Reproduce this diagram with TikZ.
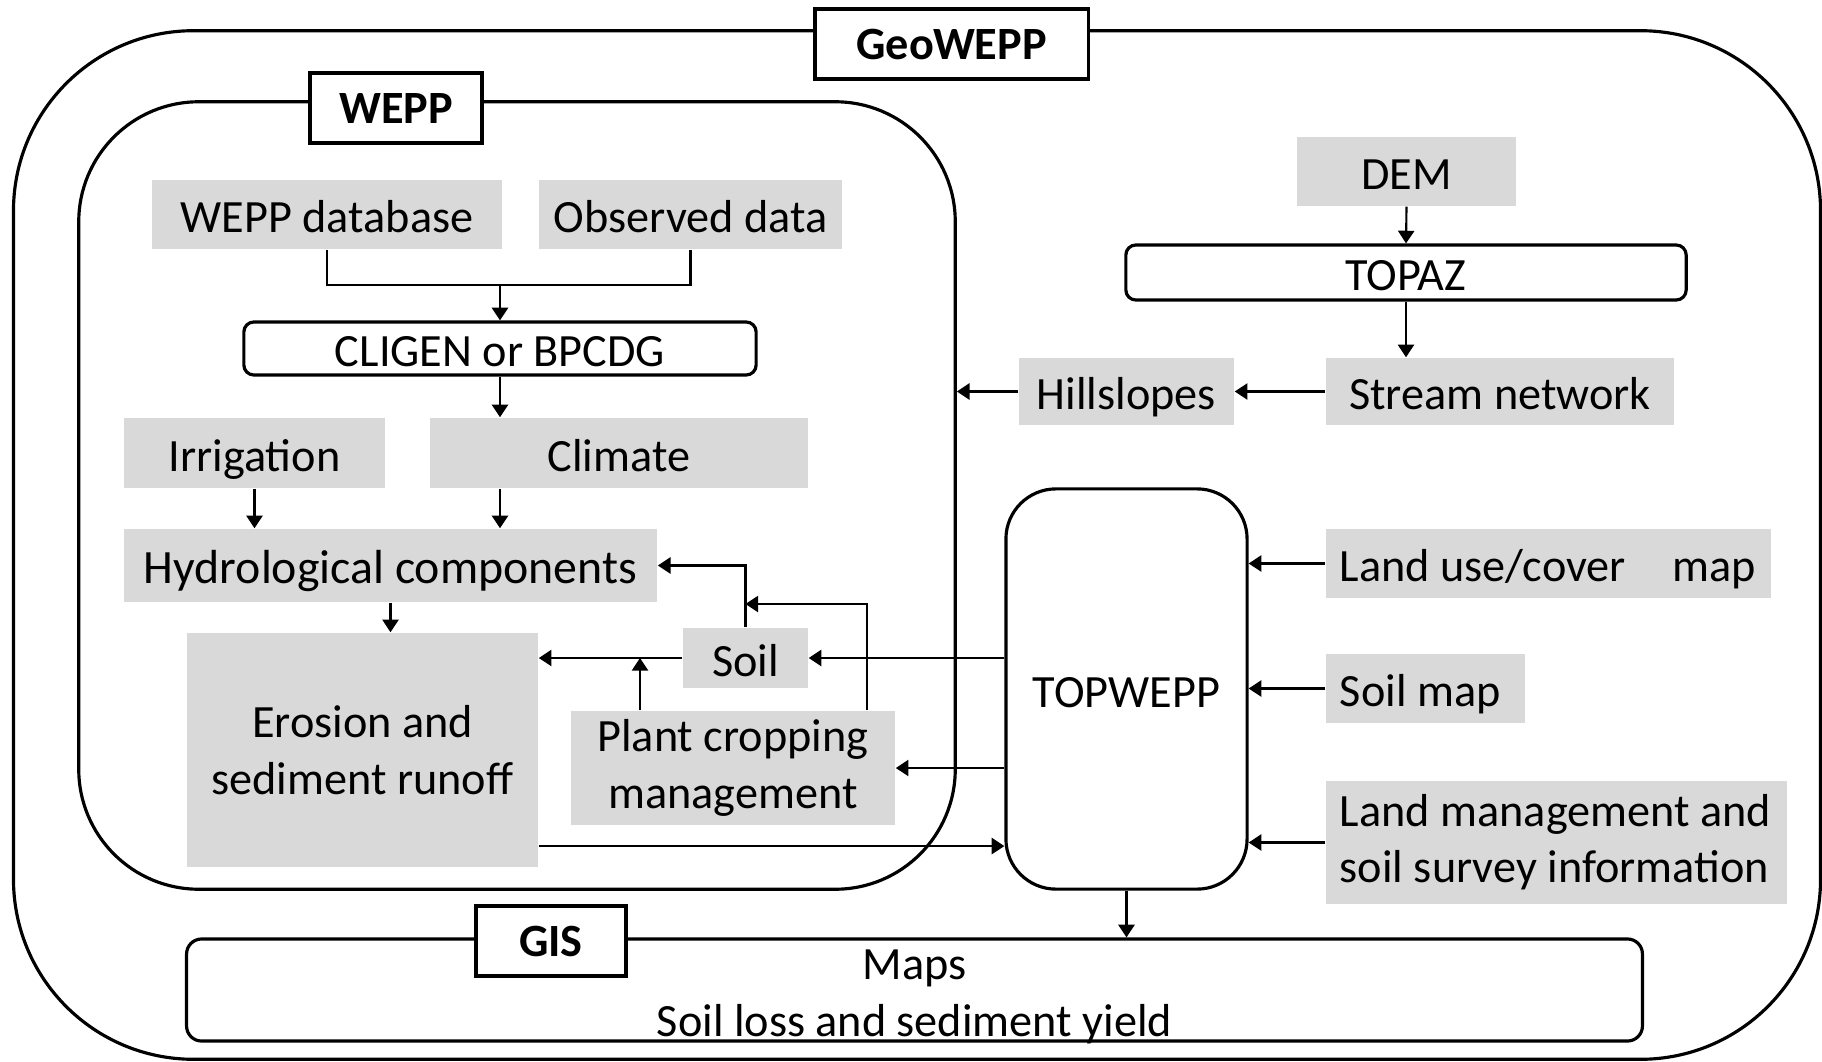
\documentclass[tikz,border=0pt]{standalone}
\usepackage{fontspec}
\setmainfont{Carlito}
\usetikzlibrary{arrows.meta}
\definecolor{boxgray}{HTML}{D9D9D9}
\newcommand{\bodysize}{\fontsize{13.15pt}{16pt}\selectfont}
\tikzset{
  oneline/.style={text height=11.4pt, text depth=1pt},
  gbox/.style={fill=boxgray, draw=none, inner sep=0pt, align=center},
  plainbox/.style={fill=boxgray, draw=none, inner sep=0pt},
  ltext/.style={anchor=west, inner sep=0pt, align=left},
  rbox/.style={draw, line width=0.9pt, rounded corners=0.1cm, inner sep=0pt, align=center},
  frame/.style={draw, line width=0.9pt, inner sep=0pt},
  tagbox/.style={draw, line width=0.9pt, fill=white, inner sep=0pt, text height=10.8pt, text depth=2pt, font=\bodysize\bfseries},
  link/.style={line width=0.6pt},
  arr/.style={line width=0.6pt, -{Triangle[length=3.6pt,width=4.6pt]}},
}
\begin{document}
\begin{tikzpicture}[x=0.01cm, y=-0.01cm, font=\bodysize]
\useasboundingbox (0,0) rectangle (1822,1061);

% enclosing frames
\node[frame, rounded corners=1.8cm, minimum width=18.06cm, minimum height=10.28cm] (outer) at (917,545) {};
\node[frame, rounded corners=1.2cm, minimum width=8.76cm, minimum height=7.87cm] (weppbox) at (517,495.5) {};
\node[tagbox, minimum width=2.73cm, minimum height=0.70cm] (geotag) at (951.5,44) {GeoWEPP};
\node[tagbox, minimum width=1.72cm, minimum height=0.70cm] (wepptag) at (396,108) {WEPP};

% WEPP components
\node[gbox, oneline, minimum width=3.50cm, minimum height=0.69cm] (wdb) at (327,214.5) {WEPP database};
\node[gbox, oneline, minimum width=3.03cm, minimum height=0.69cm] (obs) at (690.5,214.5) {Observed data};
\node[rbox, oneline, minimum width=5.12cm, minimum height=0.53cm] (cligen) at (500,348.5) {CLIGEN or BPCDG};
\node[gbox, oneline, minimum width=2.61cm, minimum height=0.70cm] (irr) at (254.5,453) {Irrigation};
\node[gbox, oneline, minimum width=3.78cm, minimum height=0.70cm] (clim) at (619,453) {Climate};
\node[gbox, oneline, minimum width=5.33cm, minimum height=0.73cm, font=\fontsize{13.6pt}{16pt}\selectfont] (hydro) at (390.5,565.5) {Hydrological components};
\node[gbox, minimum width=3.51cm, minimum height=2.34cm] (eros) at (362.5,750) {Erosion and\\sediment runoff};
\node[gbox, oneline, minimum width=1.25cm, minimum height=0.60cm] (soil) at (745.5,658) {Soil};
\node[gbox, minimum width=3.24cm, minimum height=1.14cm] (plant) at (733,768) {Plant cropping\\management};

% terrain processing
\node[gbox, oneline, minimum width=2.19cm, minimum height=0.69cm] (dem) at (1406.5,171.5) {DEM};
\node[rbox, oneline, minimum width=5.60cm, minimum height=0.55cm] (topaz) at (1406,272.5) {TOPAZ};
\node[gbox, oneline, minimum width=3.48cm, minimum height=0.67cm] (stream) at (1500,391.5) {Stream network};
\node[gbox, oneline, minimum width=2.15cm, minimum height=0.67cm] (hill) at (1126.5,391.5) {Hillslopes};
\node[rbox, oneline, rounded corners=0.5cm, minimum width=2.41cm, minimum height=4.00cm] (topwepp) at (1126.5,689) {TOPWEPP};

% map inputs, text set flush left inside the grey boxes
\node[plainbox, minimum width=4.45cm, minimum height=0.69cm] (landuse) at (1548.5,563.5) {};
\node[ltext, oneline] (landusetext) at ([xshift=0.14cm]landuse.west) {Land use/cover\hspace{0.47cm}map};
\node[plainbox, minimum width=1.99cm, minimum height=0.69cm] (soilmap) at (1425.5,688.5) {};
\node[ltext, oneline] (soilmaptext) at ([xshift=0.14cm]soilmap.west) {Soil map};
\node[plainbox, minimum width=4.61cm, minimum height=1.23cm] (landman) at (1556.5,842.5) {};
\node[ltext] (landmantext) at ([xshift=0.14cm]landman.west) {Land management and\\soil survey information};

% GIS output
\node[frame, rounded corners=0.15cm, minimum width=14.55cm, minimum height=1.02cm] (gisbox) at (914.5,990) {};
\node[inner sep=0pt, align=center] (gistext) at ([yshift=-0.07cm]gisbox.center) {Maps\\Soil loss and sediment yield};
\node[tagbox, minimum width=1.50cm, minimum height=0.70cm] (gistag) at (551,941) {GIS};

% climate input chain
\coordinate (join) at (500,285);
\draw[link] (wdb.south) |- (join) -| (obs.south);
\draw[arr] (join) -- (cligen.north);
\draw[arr] (cligen.south) -- (cligen.south |- clim.north);
\draw[arr] (irr.south) -- (irr.south |- hydro.north);
\draw[arr] (cligen.south |- clim.south) -- (cligen.south |- hydro.north);
\draw[arr] (hydro.south) -- (hydro.south |- eros.north);

% soil and management links
\coordinate (pleft) at (640,0);
\coordinate (pright) at (867,604);
\draw[arr] (soil.west) -- (soil.west -| eros.east);
\draw[arr] (plant.north -| pleft) -- (soil.west -| pleft);
\draw[arr] (soil.north) |- (hydro.east);
\draw[arr] (plant.north -| pright) |- (soil.north |- pright);
\draw[arr] (topwepp.west |- soil.east) -- (soil.east);
\draw[arr] (topwepp.west |- plant.east) -- (plant.east);
\draw[arr] ([yshift=-0.96cm]eros.east) -- ([yshift=-0.96cm]eros.east -| topwepp.west);
\draw[arr] (topwepp.south) -- (topwepp.south |- gisbox.north);

% terrain links
\draw[arr] (dem.south) -- (topaz.north);
\draw[arr] (topaz.south) -- (topaz.south |- stream.north);
\draw[arr] (stream.west) -- (hill.east);
\draw[arr] (hill.west) -- (hill.west -| weppbox.east);

% map inputs to TOPWEPP
\draw[arr] (landuse.west) -- (landuse.west -| topwepp.east);
\draw[arr] (soilmap.west) -- (soilmap.west -| topwepp.east);
\draw[arr] (landman.west) -- (landman.west -| topwepp.east);
\end{tikzpicture}
\end{document}
